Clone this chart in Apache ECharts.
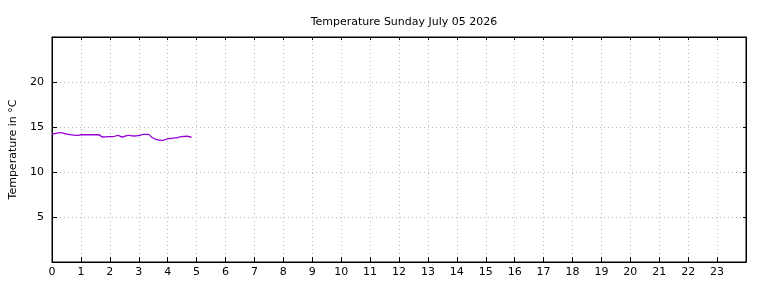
<!DOCTYPE html>
<html>
<head>
<meta charset="utf-8">
<script src="https://cdn.jsdelivr.net/npm/echarts@6/dist/echarts.min.js"></script>
<style>
  html, body { margin: 0; padding: 0; background: #fff; }
  #chart { width: 768px; height: 288px; }
</style>
</head>
<body>
<div id="chart"></div>
<script>
// hour of day, temperature in °C
const hours = [0, 0.3, 0.55, 0.9, 1.0, 1.6, 1.76, 1.94, 2.11, 2.28, 2.42, 2.64, 2.81, 3.04, 3.16, 3.33, 3.45, 3.62, 3.79, 3.91, 4.02, 4.25, 4.48, 4.66, 4.83]
const temps = [14.19, 14.37, 14.19, 14.08, 14.14, 14.14, 13.89, 13.92, 13.92, 14.08, 13.89, 14.08, 14.0, 14.08, 14.19, 14.19, 13.86, 13.59, 13.52, 13.59, 13.7, 13.78, 13.92, 13.97, 13.86]
const yTicks = [5, 10, 15, 20]
const titleText = 'Temperature Sunday July 05 2026'
const yName = 'Temperature in °C'

const font = 'DejaVu Sans'
const chart = echarts.init(document.getElementById('chart'))

function ticks(len) {
  return { show: true, inside: true, length: len, lineStyle: { color: '#000', width: 1 } }
}
function gridLine() {
  return { show: true, lineStyle: { color: '#bcbcbc', type: [1, 3], width: 1 } }
}
function line() {
  return { show: true, onZero: false, lineStyle: { color: '#000', width: 1 } }
}

const option = {
  animation: false,
  title: {
    text: titleText,
    left: 399,
    top: 12,
    textAlign: 'center',
    textStyle: { fontFamily: font, fontSize: 11, fontWeight: 'normal', color: '#000' }
  },
  grid: {
    left: 52, right: 22, top: 37, bottom: 26,
    show: true, borderColor: '#000', borderWidth: 1, backgroundColor: 'transparent'
  },
  xAxis: [
    {
      type: 'value', position: 'bottom', min: 0, max: 24, interval: 1,
      axisLine: line(),
      axisTick: ticks(5),
      splitLine: gridLine(),
      axisLabel: {
        fontFamily: font, fontSize: 11, color: '#000', margin: 5,
        formatter: v => (v === 24 ? '' : String(v))
      }
    },
    {
      type: 'value', position: 'top', min: 0, max: 24, interval: 1,
      axisLine: line(),
      axisTick: ticks(3),
      splitLine: { show: false },
      axisLabel: { show: false }
    }
  ],
  yAxis: [
    {
      type: 'value', position: 'left', min: 0, max: 25, interval: 5,
      name: yName, nameLocation: 'middle', nameGap: 33, nameRotate: 90,
      nameTextStyle: { fontFamily: font, fontSize: 11, color: '#000' },
      axisLine: line(),
      axisTick: ticks(5),
      splitLine: gridLine(),
      axisLabel: {
        fontFamily: font, fontSize: 11, color: '#000', margin: 8,
        formatter: v => (yTicks.includes(v) ? String(v) : '')
      }
    },
    {
      type: 'value', position: 'right', min: 0, max: 25, interval: 5,
      axisLine: line(),
      axisTick: ticks(3),
      splitLine: { show: false },
      axisLabel: { show: false }
    }
  ],
  series: [
    {
      type: 'line',
      data: hours.map((h, i) => [h, temps[i]]),
      showSymbol: false,
      smooth: 0.3,
      lineStyle: { color: '#9400d3', width: 1.3 },
      itemStyle: { color: '#9400d3' }
    }
  ]
}
chart.setOption(option)
</script>
</body>
</html>
